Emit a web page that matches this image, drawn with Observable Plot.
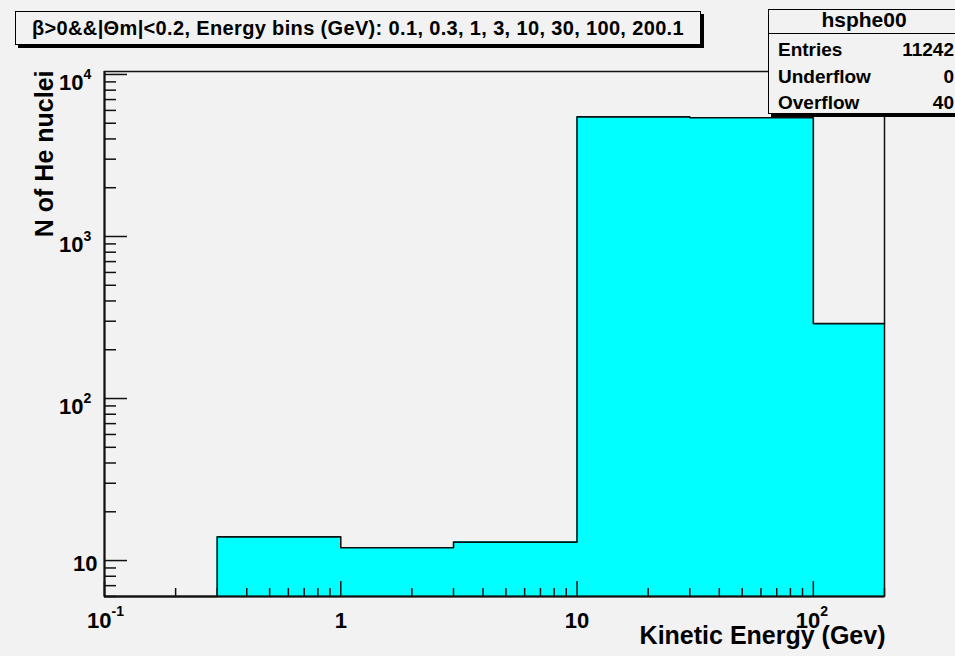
<!DOCTYPE html>
<html><head><meta charset="utf-8">
<script src="https://cdn.jsdelivr.net/npm/d3@7"></script>
<script src="https://cdn.jsdelivr.net/npm/@observablehq/plot@0.6"></script>
<style>
body{margin:0;background:#f2f2f2;font-family:"Liberation Sans",Arial,sans-serif;}
#wrap{position:relative;width:955px;height:656px;overflow:hidden;background:#f2f2f2;}
#wrap svg{position:absolute;left:0;top:0;}
.box{position:absolute;background:#f2f2f2;border:1.5px solid #000;box-shadow:3px 3px 0 #000;box-sizing:border-box;}
.t{position:absolute;font-weight:bold;color:#000;white-space:nowrap;}
</style></head><body><div id="wrap"></div>
<script>
// ---- data ----
const binEdges = [0.1, 0.3, 1, 3, 10, 30, 100, 200.1];
const counts = [0, 14, 12, 13, 5470, 5400, 290];
const xDomain = [0.1, 200.1];
const yDomain = [6, 10430];
const xTickValues = [0.1, 1, 10, 100];
const xTickBases = ["10", "1", "10", "10"];
const xTickExps = ["-1", "", "", "2"];
const yTickValues = [10, 100, 1000, 10000];
const yTickBases = ["10", "10", "10", "10"];
const yTickExps = ["", "2", "3", "4"];
const titleText = "β>0&&|Θm|<0.2, Energy bins (GeV): 0.1, 0.3, 1, 3, 10, 30, 100, 200.1";
const statsName = "hsphe00";
const statsLabels = ["Entries", "Underflow", "Overflow"];
const statsValues = ["11242", "0", "40"];
const xTitle = "Kinetic Energy (Gev)";
const yTitle = "N of He nuclei";

// ---- derived tables ----
const bins = counts.map((n, i) => ({x1: binEdges[i], x2: binEdges[i + 1], n}));
const outline = bins.map(b => ({x: b.x1, y: Math.max(b.n, yDomain[0])}));
outline.push({x: binEdges[binEdges.length - 1], y: Math.max(counts[counts.length - 1], yDomain[0])});
const xAll = d3.scaleLog().domain(xDomain).ticks();
const yAll = d3.scaleLog().domain(yDomain).ticks();
const isMajor = v => Math.abs(Math.log10(v) - Math.round(Math.log10(v))) < 1e-9;
const xMajor = xAll.filter(isMajor), xMinor = xAll.filter(v => !isMajor(v));
const yMajor = yAll.filter(isMajor), yMinor = yAll.filter(v => !isMajor(v));
const xLab = xTickValues.map((v, i) => ({v, base: xTickBases[i], exp: xTickExps[i]}));
const yLab = yTickValues.map((v, i) => ({v, base: yTickBases[i], exp: yTickExps[i]}));

const W = 955, H = 656, mL = 104, mR = 71, mT = 71, mB = 60;
const fw = W - mL - mR, fh = H - mT - mB;
const big = {fontSize: 22, fontWeight: "bold", fill: "#000"};
const sup = {fontSize: 14, fontWeight: "bold", fill: "#000"};

const chart = Plot.plot({
  width: W, height: H,
  marginLeft: mL, marginRight: mR, marginTop: mT, marginBottom: mB,
  style: {background: "transparent", fontFamily: "Liberation Sans, Arial, sans-serif", overflow: "visible"},
  x: {type: "log", domain: xDomain, axis: null},
  y: {type: "log", domain: yDomain, axis: null},
  marks: [
    Plot.rect(bins, {x1: "x1", x2: "x2", y1: () => yDomain[0], y2: "n", fill: "#00ffff", stroke: "#00ffff", strokeWidth: 1, shapeRendering: "crispEdges"}),
    Plot.line(outline, {x: "x", y: "y", curve: "step-after", stroke: "#111", strokeWidth: 1.6}),
    Plot.frame({stroke: "#111", strokeWidth: 1.5}),
    Plot.ruleX([xDomain[0]], {stroke: "#111", strokeWidth: 2}),
    Plot.ruleY([yDomain[0]], {stroke: "#111", strokeWidth: 2}),
    Plot.tickX(xMinor, {x: d => d, insetTop: fh - 8, stroke: "#111", strokeWidth: 1.5}),
    Plot.tickX(xMajor, {x: d => d, insetTop: fh - 15, stroke: "#111", strokeWidth: 1.5}),
    Plot.tickY(yMinor, {y: d => d, insetRight: fw - 12, stroke: "#111", strokeWidth: 1.5}),
    Plot.tickY(yMajor, {y: d => d, insetRight: fw - 23, stroke: "#111", strokeWidth: 1.5}),
    // x tick labels
    Plot.text(xLab.filter(d => !d.exp), {x: "v", text: "base", frameAnchor: "bottom", dy: 24, lineAnchor: "middle", textAnchor: "middle", ...big}),
    Plot.text(xLab.filter(d => d.exp), {x: "v", text: "base", frameAnchor: "bottom", dy: 24, dx: 7, lineAnchor: "middle", textAnchor: "end", ...big}),
    Plot.text(xLab.filter(d => d.exp), {x: "v", text: "exp", frameAnchor: "bottom", dy: 15, dx: 7, lineAnchor: "middle", textAnchor: "start", ...sup}),
    // y tick labels
    Plot.text(yLab.filter(d => !d.exp), {y: "v", text: "base", frameAnchor: "left", dx: -7, dy: 3, lineAnchor: "middle", textAnchor: "end", ...big}),
    Plot.text(yLab.filter(d => d.exp), {y: "v", text: "base", frameAnchor: "left", dx: -21, dy: 8, lineAnchor: "middle", textAnchor: "end", ...big}),
    Plot.text(yLab.filter(d => d.exp), {y: "v", text: "exp", frameAnchor: "left", dx: -21, dy: 0, lineAnchor: "middle", textAnchor: "start", ...sup}),
    // axis titles
    Plot.text([xTitle], {text: d => d, frameAnchor: "bottom-right", dx: 1, dy: 47, textAnchor: "end", lineAnchor: "bottom", fontSize: 25, fontWeight: "bold", fill: "#000"}),
    Plot.text([yTitle], {text: d => d, frameAnchor: "top-left", rotate: -90, dx: -52, dy: -1, textAnchor: "end", lineAnchor: "bottom", fontSize: 25, fontWeight: "bold", fill: "#000"})
  ]
});
const wrap = document.getElementById("wrap");
wrap.appendChild(chart);

// title box
const tb = document.createElement("div");
tb.className = "box";
Object.assign(tb.style, {left: "15px", top: "11px", width: "686px", height: "34px", lineHeight: "32px", textAlign: "center", fontSize: "20px", letterSpacing: "0.35px", fontWeight: "bold"});
tb.textContent = titleText;
wrap.appendChild(tb);

// stats box
const sb = document.createElement("div");
sb.className = "box";
Object.assign(sb.style, {left: "768px", top: "9px", width: "192px", height: "105px"});
wrap.appendChild(sb);
const hdrLine = document.createElement("div");
Object.assign(hdrLine.style, {position: "absolute", left: "0", top: "22.5px", width: "100%", borderTop: "1.5px solid #000"});
sb.appendChild(hdrLine);
const hd = document.createElement("div");
hd.className = "t";
Object.assign(hd.style, {left: "0", width: "100%", textAlign: "center", top: "-1.5px", fontSize: "21px", lineHeight: "21px"});
hd.textContent = statsName;
sb.appendChild(hd);
statsLabels.forEach((lab, i) => {
  const top = [39.5, 66.5, 92.5][i];
  const l = document.createElement("div");
  l.className = "t";
  Object.assign(l.style, {left: "778px", top: top + "px", fontSize: "19px", lineHeight: "19px"});
  l.textContent = lab;
  wrap.appendChild(l);
  const v = document.createElement("div");
  v.className = "t";
  Object.assign(v.style, {right: "1px", top: top + "px", fontSize: "19px", lineHeight: "19px"});
  v.textContent = statsValues[i];
  wrap.appendChild(v);
});
</script></body></html>
